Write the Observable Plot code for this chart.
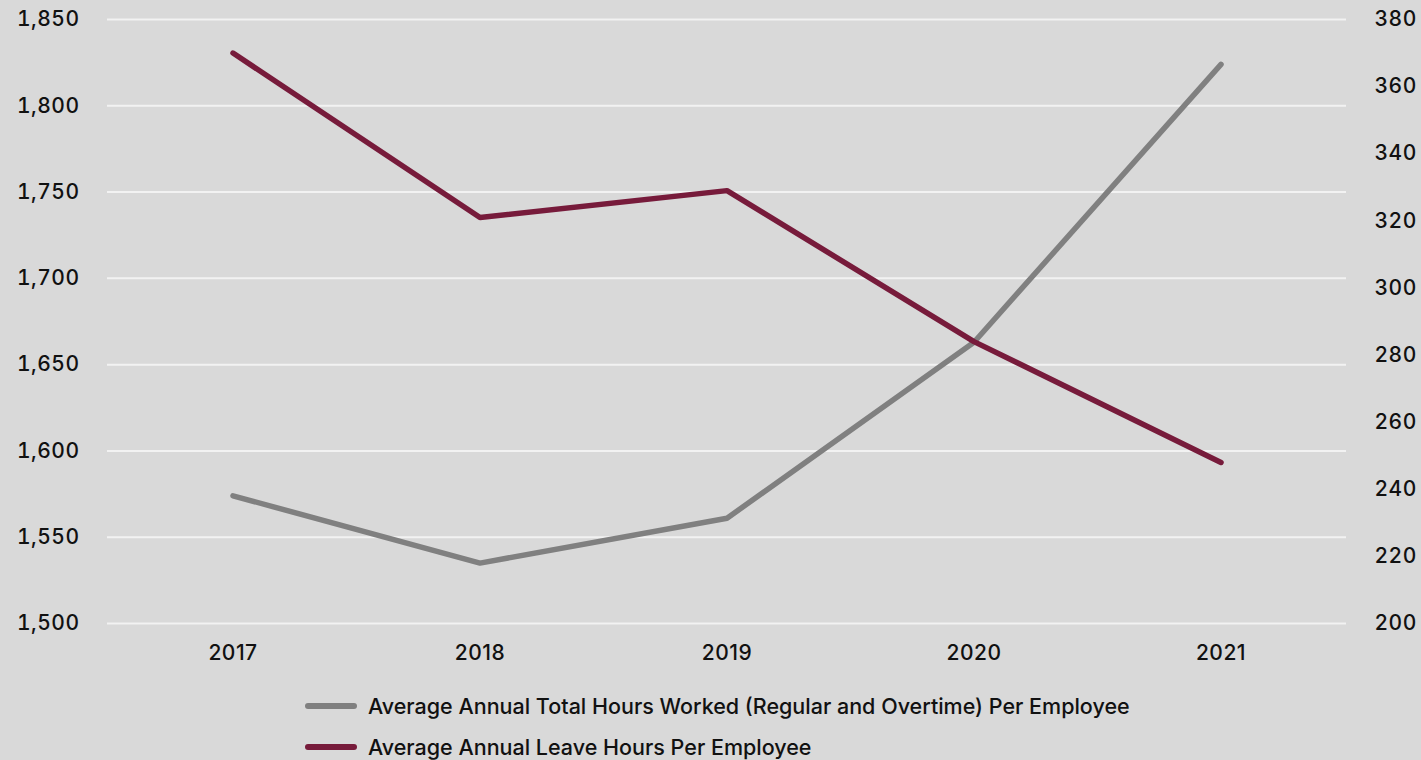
<!DOCTYPE html>
<html>
<head>
<meta charset="utf-8">
<script src="https://cdn.jsdelivr.net/npm/d3@7"></script>
<script src="https://cdn.jsdelivr.net/npm/@observablehq/plot@0.6"></script>
<style>
  html, body { margin: 0; padding: 0; background: #d9d9d9; }
  body { width: 1421px; height: 760px; overflow: hidden; font-family: Inter, "Liberation Sans", Arial, sans-serif; }
  #legend { position: absolute; left: 305px; top: 685px; font-size: 21.5px; font-weight: 500; color: #111; }
  .item { display: flex; align-items: center; height: 41px; }
  .sw { width: 52px; height: 6px; border-radius: 3px; margin-right: 11px; }
</style>
</head>
<body>
<div id="chart"></div>
<div id="legend"></div>
<script>
const years = ["2017", "2018", "2019", "2020", "2021"];
const hoursWorked = [1574, 1535, 1561, 1663, 1824];
const leaveHours = [370, 321, 329, 284, 248];
const leftTicks = [1500, 1550, 1600, 1650, 1700, 1750, 1800, 1850];
const rightTicks = [200, 220, 240, 260, 280, 300, 320, 340, 360, 380];
const seriesNames = [
  "Average Annual Total Hours Worked (Regular and Overtime) Per Employee",
  "Average Annual Leave Hours Per Employee"
];
const colors = ["#808080", "#771b3b"];

const toLeft = v => 1500 + (v - 200) * (350 / 180);
const fromLeft = v => Math.round(200 + (v - 1500) * (180 / 350));

const worked = years.map((y, i) => ({year: y, value: hoursWorked[i]}));
const leave = years.map((y, i) => ({year: y, value: toLeft(leaveHours[i])}));

const chart = Plot.plot({
  width: 1421,
  height: 680,
  marginLeft: 107,
  marginRight: 75,
  marginTop: 19,
  marginBottom: 57,
  style: {background: "#d9d9d9", fontFamily: "Inter, Liberation Sans, Arial, sans-serif", fontSize: "21px", fontWeight: 500, letterSpacing: "0.5px", color: "#111"},
  x: {type: "band", domain: years, padding: 0, label: null},
  y: {domain: [1500, 1850], label: null},
  marks: [
    Plot.gridY(leftTicks, {stroke: "#f2f2f2", strokeOpacity: 1, strokeWidth: 2}),
    Plot.axisY(leftTicks, {anchor: "left", tickSize: 0, tickPadding: 28, label: null, tickFormat: d3.format(",")}),
    Plot.axisY(rightTicks.map(toLeft), {anchor: "right", tickSize: 0, tickPadding: 28, label: null, tickFormat: d => String(fromLeft(d))}),
    Plot.axisX({tickSize: 0, tickPadding: 22, label: null}),
    Plot.line(worked, {x: "year", y: "value", stroke: colors[0], strokeWidth: 5.5, strokeLinecap: "round", strokeLinejoin: "round"}),
    Plot.line(leave, {x: "year", y: "value", stroke: colors[1], strokeWidth: 5.5, strokeLinecap: "round", strokeLinejoin: "round"})
  ]
});
document.getElementById("chart").appendChild(chart);

const legend = document.getElementById("legend");
seriesNames.forEach((name, i) => {
  const item = document.createElement("div");
  item.className = "item";
  const sw = document.createElement("div");
  sw.className = "sw";
  sw.style.background = colors[i];
  const t = document.createElement("span");
  t.textContent = name;
  item.appendChild(sw);
  item.appendChild(t);
  legend.appendChild(item);
});
</script>
</body>
</html>
